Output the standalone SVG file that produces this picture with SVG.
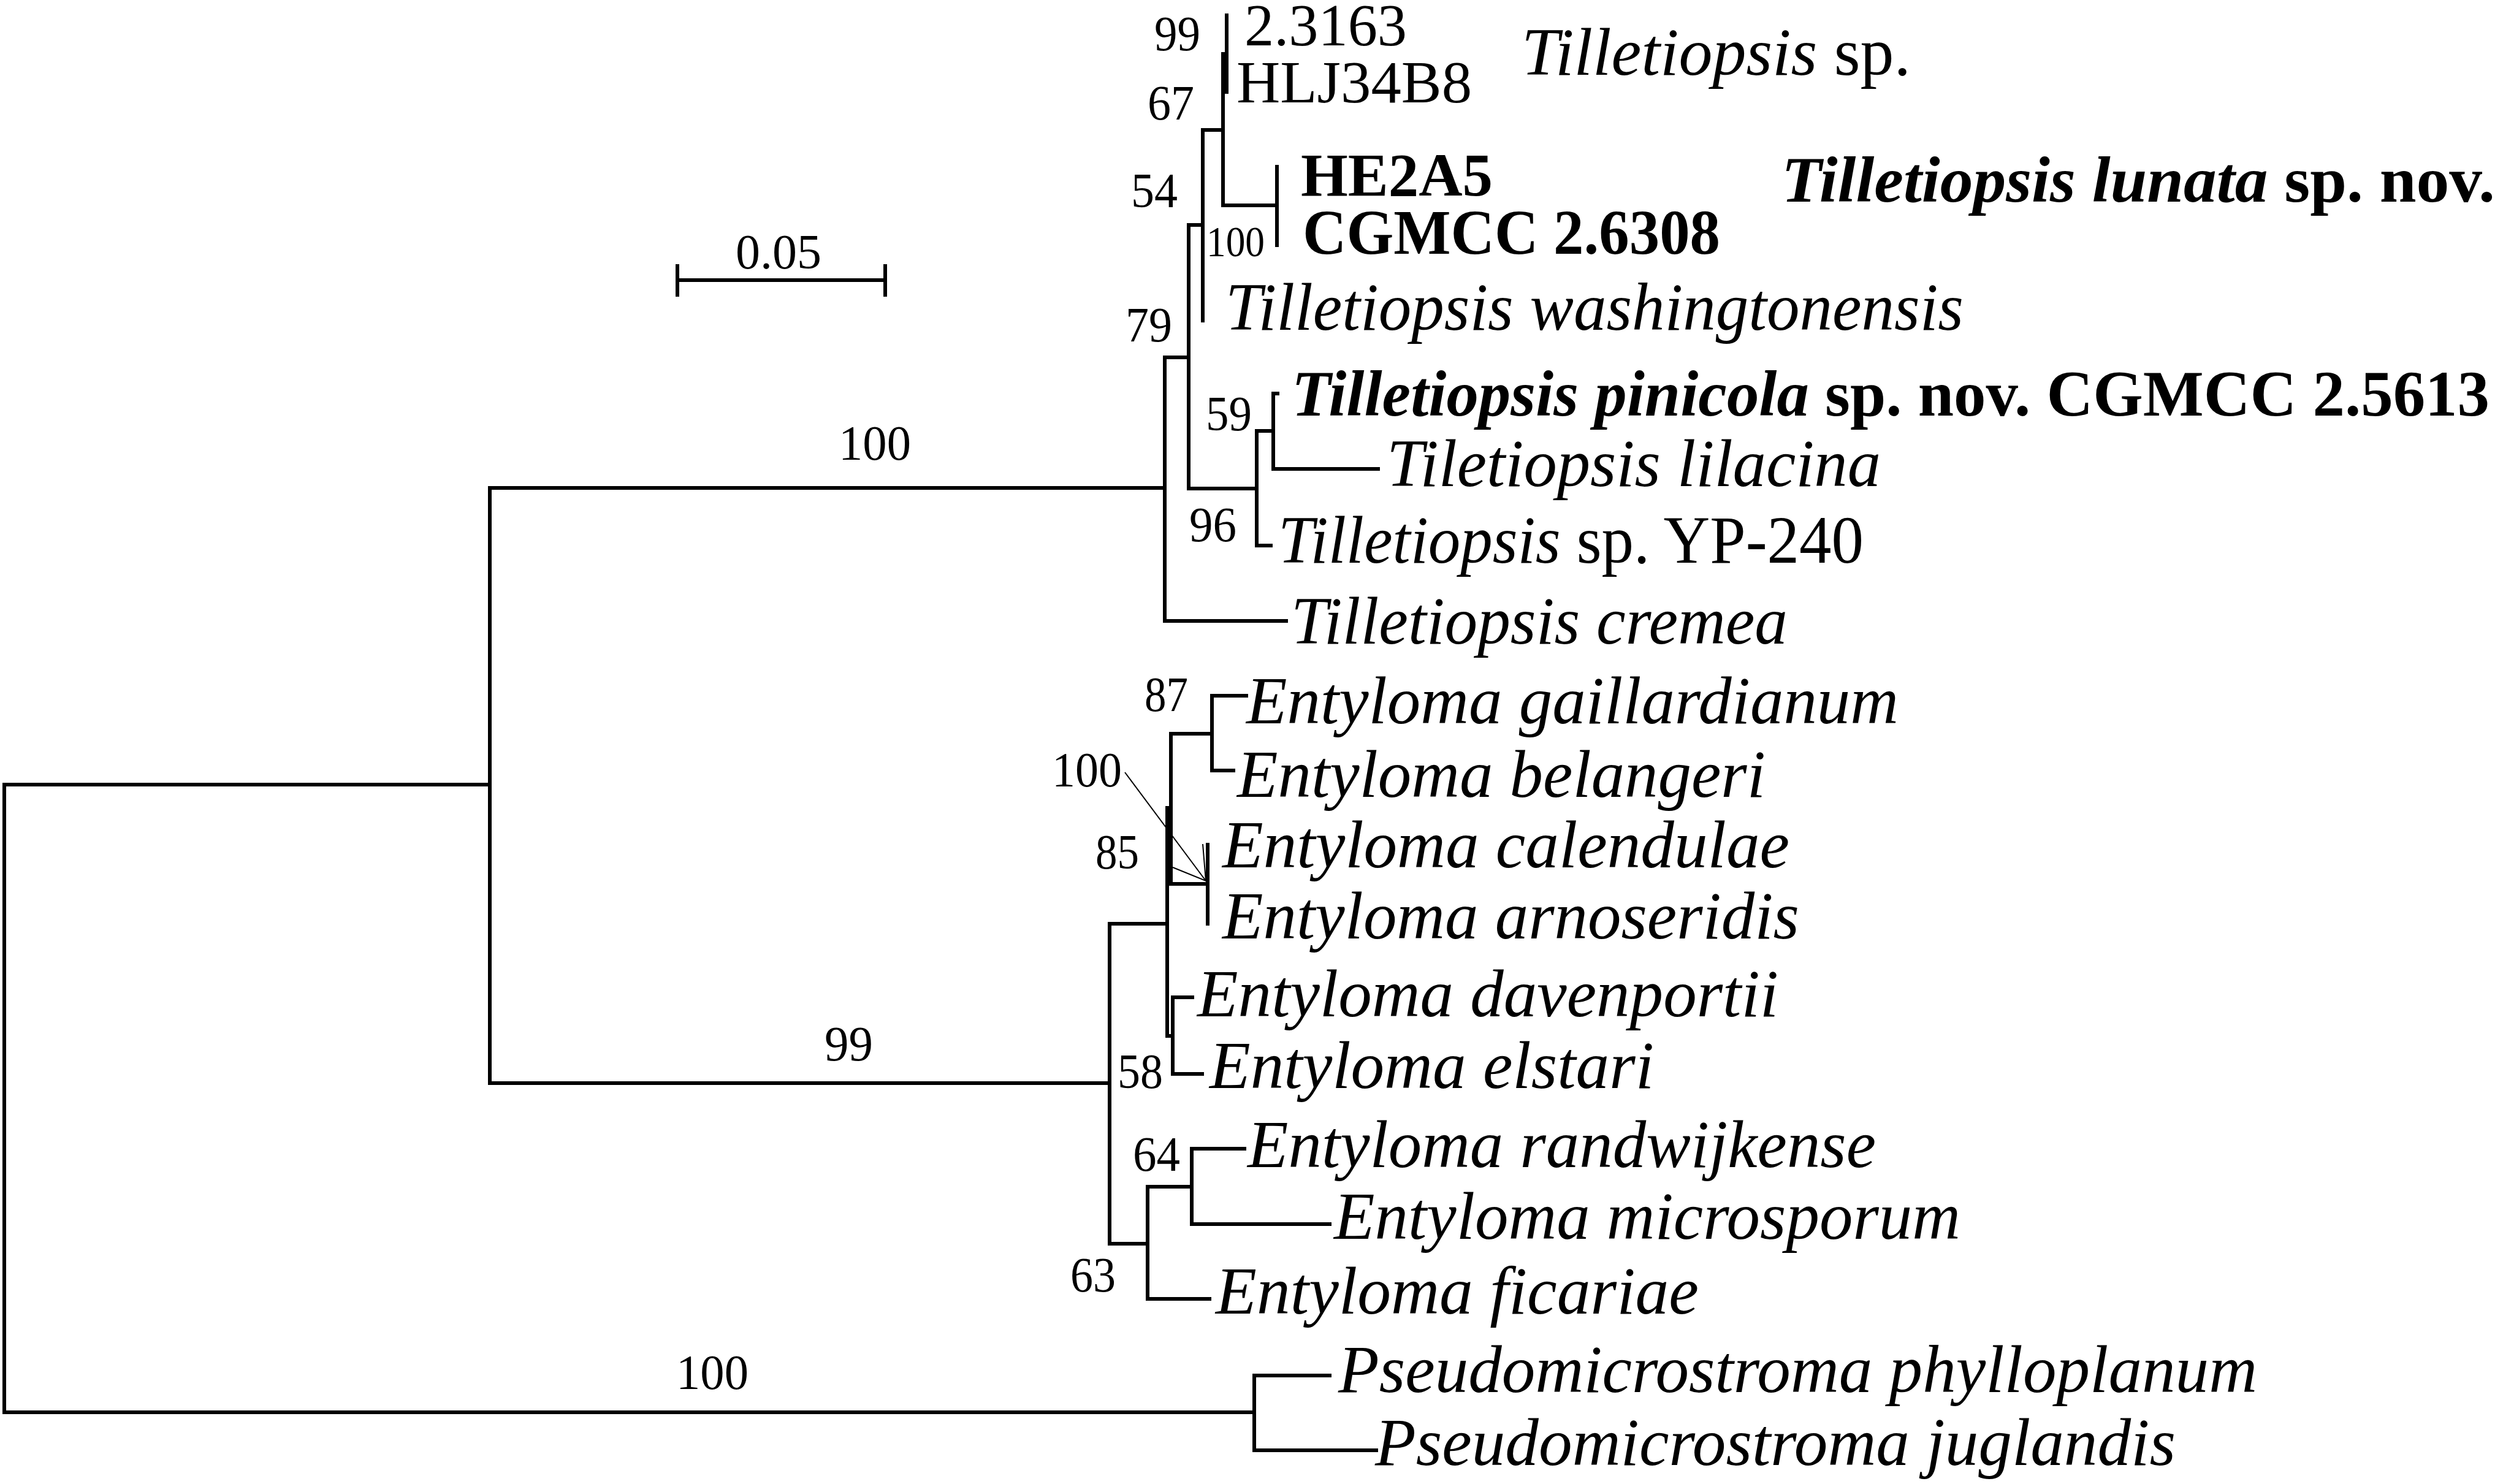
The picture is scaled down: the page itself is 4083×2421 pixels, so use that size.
<svg xmlns="http://www.w3.org/2000/svg" width="4083" height="2421" viewBox="0 0 4083 2421">
<style>
text { font-family: "Liberation Serif", "Times New Roman", serif; fill: #000; }
.bs { font-size: 80px; }
.cd { font-size: 97px; }
.sp { font-size: 110px; font-style: italic; }
.bd { font-weight: bold; font-size: 104px; }
.it { font-style: italic; }
.up { font-style: normal; }
.br { stroke: #000; stroke-width: 6; fill: none; stroke-linecap: square; }
.thin { stroke: #000; stroke-width: 2; fill: none; }
</style>
<rect width="4083" height="2421" fill="#fff"/>
<g id="connectors" class="br">
<path d="M7,1280 V2304"/>
<path d="M7,1280 H799"/>
<path d="M799,796 V1767"/>
<path d="M799,796 H1900"/>
<path d="M1900,583 V1013"/>
<path d="M1900,583 H1939"/>
<path d="M1939,367 V797"/>
<path d="M1939,367 H1962"/>
<path d="M1962,212 V523"/>
<path d="M1962,212 H1995"/>
<path d="M1995,88 V335"/>
<path d="M1995,88 H2001"/>
<path d="M2001,25 V150"/>
<path d="M1995,335 H2083"/>
<path d="M2083,272 V400"/>
<path d="M1939,797 H2050"/>
<path d="M2050,703 V890"/>
<path d="M2050,703 H2077"/>
<path d="M2077,642 V765"/>
<path d="M2077,642 H2084"/>
<path d="M2077,765 H2248"/>
<path d="M2050,890 H2073"/>
<path d="M1900,1013 H2098"/>
<path d="M799,1767 H1810"/>
<path d="M1810,1507 V2029"/>
<path d="M1810,1507 H1904"/>
<path d="M1904,1318 V1690"/>
<path d="M1904,1318 H1910"/>
<path d="M1910,1197 V1442"/>
<path d="M1910,1197 H1977"/>
<path d="M1977,1135 V1257"/>
<path d="M1977,1135 H2033"/>
<path d="M1977,1257 H2012"/>
<path d="M1910,1442 H1970"/>
<path d="M1970,1378 V1507"/>
<path d="M1904,1690 H1913"/>
<path d="M1913,1627 V1752"/>
<path d="M1913,1627 H1945"/>
<path d="M1913,1752 H1961"/>
<path d="M1810,2029 H1872"/>
<path d="M1872,1936 V2119"/>
<path d="M1872,1936 H1944"/>
<path d="M1944,1874 V1997"/>
<path d="M1944,1874 H2030"/>
<path d="M1944,1997 H2169"/>
<path d="M1872,2119 H1973"/>
<path d="M7,2304 H2046"/>
<path d="M2046,2244 V2366"/>
<path d="M2046,2244 H2169"/>
<path d="M2046,2366 H2245"/>
</g>
<g id="scale-bar">
<path class="br" d="M1105,457 H1444 M1105,434 V481 M1444,434 V481"/>
<text class="bs" x="1200" y="438" textLength="140" lengthAdjust="spacingAndGlyphs">0.05</text>
</g>
<g id="support-arrow" class="thin">
<path d="M1835,1260 L1967,1437 M1962,1377 L1967,1437 L1913,1415"/>
</g>
<g id="support-values" class="bs">
<text x="1883" y="82" textLength="75" lengthAdjust="spacingAndGlyphs">99</text>
<text x="1872" y="195" textLength="76" lengthAdjust="spacingAndGlyphs">67</text>
<text x="1845" y="338" textLength="76" lengthAdjust="spacingAndGlyphs">54</text>
<text x="1968" y="418" style="font-size:69px" textLength="95" lengthAdjust="spacingAndGlyphs">100</text>
<text x="1836" y="557" textLength="76" lengthAdjust="spacingAndGlyphs">79</text>
<text x="1967" y="702" textLength="75" lengthAdjust="spacingAndGlyphs">59</text>
<text x="1940" y="883" textLength="77" lengthAdjust="spacingAndGlyphs">96</text>
<text x="1368" y="750" textLength="118" lengthAdjust="spacingAndGlyphs">100</text>
<text x="1867" y="1160" textLength="71" lengthAdjust="spacingAndGlyphs">87</text>
<text x="1716" y="1283" textLength="114" lengthAdjust="spacingAndGlyphs">100</text>
<text x="1787" y="1417" textLength="71" lengthAdjust="spacingAndGlyphs">85</text>
<text x="1345" y="1730" textLength="79" lengthAdjust="spacingAndGlyphs">99</text>
<text x="1823" y="1775" textLength="74" lengthAdjust="spacingAndGlyphs">58</text>
<text x="1848" y="1910" textLength="77" lengthAdjust="spacingAndGlyphs">64</text>
<text x="1746" y="2107" textLength="74" lengthAdjust="spacingAndGlyphs">63</text>
<text x="1103" y="2266" textLength="118" lengthAdjust="spacingAndGlyphs">100</text>
</g>
<g id="leaf-2-3163"><text class="cd" x="2030" y="74" textLength="265" lengthAdjust="spacingAndGlyphs">2.3163</text></g>
<g id="leaf-HLJ34B8"><text class="cd" x="2017" y="167" textLength="384" lengthAdjust="spacingAndGlyphs">HLJ34B8</text></g>
<g id="label-tilletiopsis-sp"><text class="sp" x="2482" y="122" textLength="635" lengthAdjust="spacingAndGlyphs">Tilletiopsis<tspan class="up"> sp.</tspan></text></g>
<g id="leaf-HE2A5"><text class="bd" x="2122" y="319" textLength="313" lengthAdjust="spacingAndGlyphs" style="font-size:99px">HE2A5</text></g>
<g id="leaf-CGMCC-2-6308"><text class="bd" x="2125" y="414" textLength="681" lengthAdjust="spacingAndGlyphs">CGMCC 2.6308</text></g>
<g id="label-tilletiopsis-lunata"><text class="bd" x="2906" y="329" textLength="1164" lengthAdjust="spacingAndGlyphs" style="font-size:106px"><tspan class="it">Tilletiopsis lunata</tspan> sp. nov.</text></g>
<g id="leaf-washingtonensis"><text class="sp" x="1999" y="538" textLength="1204" lengthAdjust="spacingAndGlyphs">Tilletiopsis washingtonensis</text></g>
<g id="leaf-pinicola"><text class="bd" x="2107" y="678" textLength="1954" lengthAdjust="spacingAndGlyphs" style="font-size:106px"><tspan class="it">Tilletiopsis pinicola</tspan> sp. nov. CGMCC 2.5613</text></g>
<g id="leaf-lilacina"><text class="sp" x="2262" y="793" textLength="806" lengthAdjust="spacingAndGlyphs">Tiletiopsis lilacina</text></g>
<g id="leaf-YP-240"><text class="sp" x="2085" y="918" textLength="955" lengthAdjust="spacingAndGlyphs">Tilletiopsis<tspan class="up"> sp. YP-240</tspan></text></g>
<g id="leaf-cremea"><text class="sp" x="2106" y="1050" textLength="810" lengthAdjust="spacingAndGlyphs">Tilletiopsis cremea</text></g>
<g id="leaf-gaillardianum"><text class="sp" x="2033" y="1180" textLength="1064" lengthAdjust="spacingAndGlyphs">Entyloma gaillardianum</text></g>
<g id="leaf-belangeri"><text class="sp" x="2018" y="1300" textLength="862" lengthAdjust="spacingAndGlyphs">Entyloma belangeri</text></g>
<g id="leaf-calendulae"><text class="sp" x="1994" y="1415" textLength="925" lengthAdjust="spacingAndGlyphs">Entyloma calendulae</text></g>
<g id="leaf-arnoseridis"><text class="sp" x="1994" y="1531" textLength="941" lengthAdjust="spacingAndGlyphs">Entyloma arnoseridis</text></g>
<g id="leaf-davenportii"><text class="sp" x="1953" y="1658" textLength="948" lengthAdjust="spacingAndGlyphs">Entyloma davenportii</text></g>
<g id="leaf-elstari"><text class="sp" x="1973" y="1775" textLength="725" lengthAdjust="spacingAndGlyphs">Entyloma elstari</text></g>
<g id="leaf-randwijkense"><text class="sp" x="2035" y="1904" textLength="1025" lengthAdjust="spacingAndGlyphs">Entyloma randwijkense</text></g>
<g id="leaf-microsporum"><text class="sp" x="2176" y="2021" textLength="1022" lengthAdjust="spacingAndGlyphs">Entyloma microsporum</text></g>
<g id="leaf-ficariae"><text class="sp" x="1983" y="2143" textLength="788" lengthAdjust="spacingAndGlyphs">Entyloma ficariae</text></g>
<g id="leaf-phylloplanum"><text class="sp" x="2183" y="2271" textLength="1499" lengthAdjust="spacingAndGlyphs">Pseudomicrostroma phylloplanum</text></g>
<g id="leaf-juglandis"><text class="sp" x="2243" y="2390" textLength="1306" lengthAdjust="spacingAndGlyphs">Pseudomicrostroma juglandis</text></g>
</svg>
